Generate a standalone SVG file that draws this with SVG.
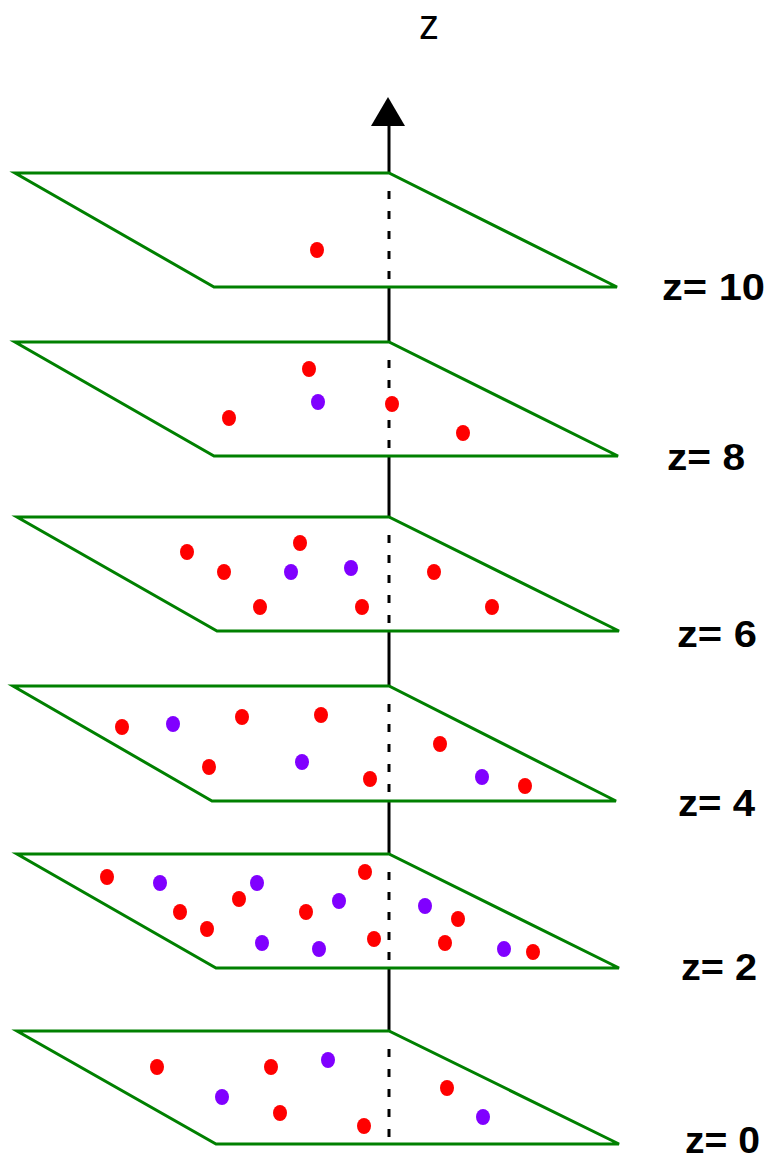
<svg xmlns="http://www.w3.org/2000/svg" width="771" height="1162" viewBox="0 0 771 1162">
<style>
.plane{fill:none;stroke:#008000;stroke-width:3;stroke-linejoin:miter}
.r{fill:#ff0000}
.p{fill:#8000ff}
.lbl{font-family:"Liberation Sans",Arial,sans-serif;font-weight:bold;font-size:37px;fill:#000}
.ax{stroke:#000;stroke-width:3;fill:none}
.dash{stroke:#000;stroke-width:3;fill:none;stroke-dasharray:8 12}
</style>
<rect width="771" height="1162" fill="#fff"/>
<text x="419" y="39" font-family="'Liberation Sans',Arial,sans-serif" font-size="42" textLength="20" lengthAdjust="spacingAndGlyphs">z</text>

<g id="connectors">
<polygon points="388,97 371,126 405,126" fill="#000"/>
<line class="ax" x1="389" y1="120" x2="389" y2="173"/>
<line class="ax" x1="389" y1="287" x2="389" y2="342"/>
<line class="ax" x1="389" y1="456" x2="389" y2="517"/>
<line class="ax" x1="389" y1="631" x2="389" y2="686"/>
<line class="ax" x1="389" y1="801" x2="389" y2="854"/>
<line class="ax" x1="389" y1="968" x2="389" y2="1031"/>
<line class="dash" x1="389" y1="191" x2="389" y2="287"/>
<line class="dash" x1="389" y1="360" x2="389" y2="456"/>
<line class="dash" x1="389" y1="535" x2="389" y2="631"/>
<line class="dash" x1="389" y1="704" x2="389" y2="801"/>
<line class="dash" x1="389" y1="872" x2="389" y2="968"/>
<line class="dash" x1="389" y1="1049" x2="389" y2="1148"/>
</g>

<g id="plane-z10">
<polygon class="plane" points="15,173 389,173 617,287 214,287"/>
<ellipse class="r" cx="317" cy="250" rx="7" ry="8"/>
<text class="lbl" x="662" y="300" textLength="103" lengthAdjust="spacingAndGlyphs">z= 10</text>
</g>

<g id="plane-z8">
<polygon class="plane" points="15,342 389,342 618,456 214,456"/>
<ellipse class="r" cx="309" cy="369" rx="7" ry="8"/>
<ellipse class="p" cx="318" cy="402" rx="7" ry="8"/>
<ellipse class="r" cx="229" cy="418" rx="7" ry="8"/>
<ellipse class="r" cx="392" cy="404" rx="7" ry="8"/>
<ellipse class="r" cx="463" cy="433" rx="7" ry="8"/>
<text class="lbl" x="667" y="470" textLength="78" lengthAdjust="spacingAndGlyphs">z= 8</text>
</g>

<g id="plane-z6">
<polygon class="plane" points="17,517 389,517 619,631 217,631"/>
<ellipse class="r" cx="187" cy="552" rx="7" ry="8"/>
<ellipse class="r" cx="300" cy="543" rx="7" ry="8"/>
<ellipse class="r" cx="224" cy="572" rx="7" ry="8"/>
<ellipse class="p" cx="291" cy="572" rx="7" ry="8"/>
<ellipse class="p" cx="351" cy="568" rx="7" ry="8"/>
<ellipse class="r" cx="434" cy="572" rx="7" ry="8"/>
<ellipse class="r" cx="260" cy="607" rx="7" ry="8"/>
<ellipse class="r" cx="362" cy="607" rx="7" ry="8"/>
<ellipse class="r" cx="492" cy="607" rx="7" ry="8"/>
<text class="lbl" x="677" y="647" textLength="80" lengthAdjust="spacingAndGlyphs">z= 6</text>
</g>

<g id="plane-z4">
<polygon class="plane" points="13,686 389,686 616,801 212,801"/>
<ellipse class="r" cx="122" cy="727" rx="7" ry="8"/>
<ellipse class="p" cx="173" cy="724" rx="7" ry="8"/>
<ellipse class="r" cx="242" cy="717" rx="7" ry="8"/>
<ellipse class="r" cx="321" cy="715" rx="7" ry="8"/>
<ellipse class="r" cx="209" cy="767" rx="7" ry="8"/>
<ellipse class="p" cx="302" cy="762" rx="7" ry="8"/>
<ellipse class="r" cx="370" cy="779" rx="7" ry="8"/>
<ellipse class="r" cx="440" cy="744" rx="7" ry="8"/>
<ellipse class="p" cx="482" cy="777" rx="7" ry="8"/>
<ellipse class="r" cx="525" cy="786" rx="7" ry="8"/>
<text class="lbl" x="678" y="816" textLength="77" lengthAdjust="spacingAndGlyphs">z= 4</text>
</g>

<g id="plane-z2">
<polygon class="plane" points="17,854 389,854 619,968 216,968"/>
<ellipse class="r" cx="107" cy="877" rx="7" ry="8"/>
<ellipse class="p" cx="160" cy="883" rx="7" ry="8"/>
<ellipse class="r" cx="180" cy="912" rx="7" ry="8"/>
<ellipse class="r" cx="207" cy="929" rx="7" ry="8"/>
<ellipse class="r" cx="239" cy="899" rx="7" ry="8"/>
<ellipse class="p" cx="257" cy="883" rx="7" ry="8"/>
<ellipse class="p" cx="262" cy="943" rx="7" ry="8"/>
<ellipse class="r" cx="306" cy="912" rx="7" ry="8"/>
<ellipse class="p" cx="319" cy="949" rx="7" ry="8"/>
<ellipse class="p" cx="339" cy="901" rx="7" ry="8"/>
<ellipse class="r" cx="365" cy="872" rx="7" ry="8"/>
<ellipse class="r" cx="374" cy="939" rx="7" ry="8"/>
<ellipse class="p" cx="425" cy="906" rx="7" ry="8"/>
<ellipse class="r" cx="458" cy="919" rx="7" ry="8"/>
<ellipse class="r" cx="445" cy="943" rx="7" ry="8"/>
<ellipse class="p" cx="504" cy="949" rx="7" ry="8"/>
<ellipse class="r" cx="533" cy="952" rx="7" ry="8"/>
<text class="lbl" x="681" y="980" textLength="76" lengthAdjust="spacingAndGlyphs">z= 2</text>
</g>

<g id="plane-z0">
<polygon class="plane" points="17,1031 389,1031 619,1144 216,1144"/>
<ellipse class="r" cx="157" cy="1067" rx="7" ry="8"/>
<ellipse class="r" cx="271" cy="1067" rx="7" ry="8"/>
<ellipse class="p" cx="328" cy="1060" rx="7" ry="8"/>
<ellipse class="p" cx="222" cy="1097" rx="7" ry="8"/>
<ellipse class="r" cx="280" cy="1113" rx="7" ry="8"/>
<ellipse class="r" cx="364" cy="1126" rx="7" ry="8"/>
<ellipse class="r" cx="447" cy="1088" rx="7" ry="8"/>
<ellipse class="p" cx="483" cy="1117" rx="7" ry="8"/>
<text class="lbl" x="685" y="1153" textLength="75" lengthAdjust="spacingAndGlyphs">z= 0</text>
</g>
</svg>
